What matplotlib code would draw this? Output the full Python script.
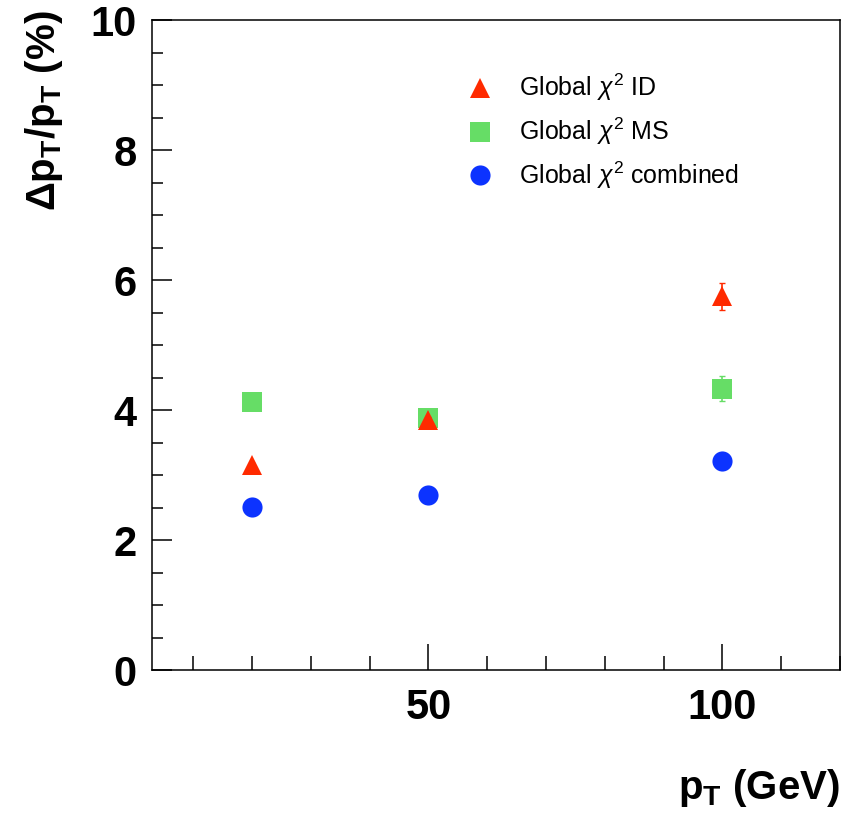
import numpy as np
import matplotlib
matplotlib.use("Agg")
import matplotlib.pyplot as plt
from matplotlib.ticker import MultipleLocator

plt.rcParams['font.family'] = ['Liberation Sans', 'DejaVu Sans']
plt.rcParams['mathtext.fontset'] = 'custom'
plt.rcParams['mathtext.rm'] = 'Liberation Sans'
plt.rcParams['mathtext.it'] = 'Liberation Sans:italic'
plt.rcParams['mathtext.bf'] = 'Liberation Sans:bold'

# data
pt = [20, 50, 100]
res_id = [3.15, 3.84, 5.75]
err_id = [0.04, 0.05, 0.21]
res_ms = [4.12, 3.87, 4.33]
err_ms = [0.05, 0.05, 0.19]
res_comb = [2.51, 2.70, 3.22]
err_comb = [0.03, 0.03, 0.05]

labels = [r'Global $\chi^2$ ID', r'Global $\chi^2$ MS', r'Global $\chi^2$ combined']
colors = ['#ff2a00', '#66dd66', '#0c33ff']

fig = plt.figure(figsize=(8.52, 8.18), dpi=100)
ax = fig.add_axes([152/852, 1 - 670/818, 688/852, 650/818])

ms = 14.5
# green first so the red triangle sits on top at 50 GeV
ax.errorbar(pt, res_ms, yerr=err_ms, fmt='none', ecolor=colors[1], elinewidth=1.2, capsize=2.5, zorder=2)
h_ms, = ax.plot(pt, res_ms, 's', color=colors[1], ms=ms, mew=0, zorder=3)
ax.errorbar(pt, res_id, yerr=err_id, fmt='none', ecolor=colors[0], elinewidth=1.2, capsize=2.5, zorder=4)
h_id, = ax.plot(pt, res_id, '^', color=colors[0], ms=ms, mew=0, zorder=5)
ax.errorbar(pt, res_comb, yerr=err_comb, fmt='none', ecolor=colors[2], elinewidth=1.2, capsize=2.5, zorder=6)
h_comb, = ax.plot(pt, res_comb, 'o', color=colors[2], ms=ms, mew=0, zorder=7)

ax.set_xlim(3, 120)
ax.set_ylim(0, 10)

ax.xaxis.set_major_locator(MultipleLocator(50))
ax.xaxis.set_minor_locator(MultipleLocator(10))
ax.yaxis.set_major_locator(MultipleLocator(2))
ax.yaxis.set_minor_locator(MultipleLocator(0.5))

ax.tick_params(axis='x', which='major', direction='in', length=19, width=1.1, pad=13, labelsize=30)
ax.tick_params(axis='x', which='minor', direction='in', length=10, width=1.1)
ax.tick_params(axis='y', which='major', direction='in', length=14.5, width=1.1, pad=11, labelsize=30)
ax.tick_params(axis='y', which='minor', direction='in', length=8, width=1.1)
for lab in ax.get_xticklabels() + ax.get_yticklabels():
    lab.set_fontweight('bold')
for sp in ax.spines.values():
    sp.set_linewidth(1.1)

ax.set_ylabel(r'Δp$_{\mathbf{T}}$/p$_{\mathbf{T}}$ (%)', fontsize=29, fontweight='bold', loc='top')
ax.yaxis.set_label_coords(-0.126, 1.015, transform=ax.transAxes)
ax.yaxis.label.set_horizontalalignment('right')
ax.set_xlabel(r'p$_{\mathbf{T}}$ (GeV)', fontsize=29, fontweight='bold', loc='right', labelpad=28)

ax.legend([h_id, h_ms, h_comb], labels, loc='upper left',
          bbox_to_anchor=(468/852, 1 - 72/818), bbox_transform=fig.transFigure,
          frameon=False, fontsize=18, numpoints=1, handlelength=0.95,
          handletextpad=1.1, labelspacing=0.5, borderpad=0, borderaxespad=0)

fig.savefig('out.png', dpi=100)
